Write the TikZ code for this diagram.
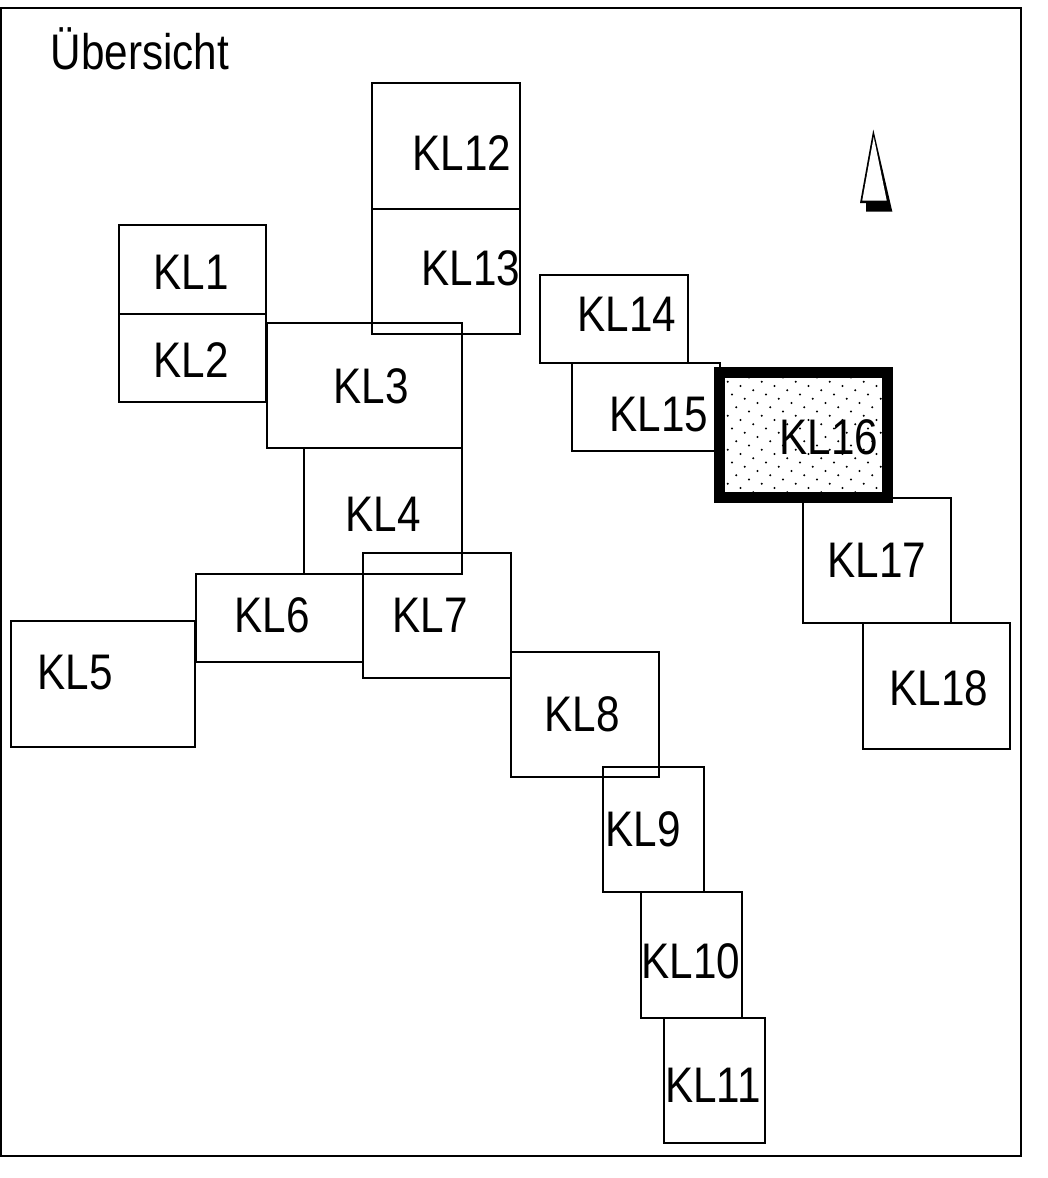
\documentclass[tikz,border=0pt]{standalone}
\usepackage{fontspec}
\setmainfont[FakeStretch=0.845]{Liberation Sans}
\begin{document}
\begin{tikzpicture}[x=0.5pt,y=-0.5pt,
  boxline/.style={draw=black,line width=0.8pt,inner sep=0pt,outer sep=0pt},
  lab/.style={font=\fontsize{25}{30}\selectfont,text=black,inner sep=0pt,anchor=center}]
\useasboundingbox (0,0) rectangle (1048,1178);
\newcommand{\klbox}[6]{%
  \node[boxline,minimum width={(#4-#2-1)*0.5pt},minimum height={(#5-#3)*0.5pt}] (#1) at ({(#2+#4-1)/2},{(#3+#5)/2}) {};
  \node[lab] (#1t) at (#6) {#1};}
\node[boxline,minimum width=510pt,minimum height=574pt] (frame) at (511,582) {};
\node[font=\fontsize{25}{30}\selectfont,inner sep=0pt] (title) at (140,49) {Übersicht};
\klbox{KL1}{119}{225}{267}{314}{191,272}
\klbox{KL2}{119}{314}{267}{402}{191,360}
\klbox{KL3}{267}{323}{463}{448}{371,386}
\klbox{KL4}{304}{448}{463}{574}{383,514}
\klbox{KL5}{11}{621}{196}{747}{75,673}
\klbox{KL6}{196}{574}{364}{662}{272,615}
\klbox{KL7}{363}{553}{512}{678}{430,615}
\klbox{KL8}{511}{652}{660}{777}{582,714}
\klbox{KL9}{603}{767}{705}{892}{643,829}
\klbox{KL10}{641}{892}{743}{1018}{691,961}
\klbox{KL11}{664}{1018}{766}{1143}{713,1085}
\klbox{KL12}{372}{83}{521}{209}{462,153}
\klbox{KL13}{372}{209}{521}{334}{471,268}
\klbox{KL14}{540}{275}{689}{363}{627,314}
\klbox{KL15}{572}{363}{721}{451}{659,415}
\klbox{KL17}{803}{498}{952}{623}{877,560}
\klbox{KL18}{863}{623}{1011}{749}{939,688}
% KL16
\node[draw=black,fill=white,line width=5.5pt,inner sep=0pt,minimum width=84pt,minimum height=62.5pt] (KL16) at (803,435) {};
\begin{scope}
\clip (725,378) rectangle (882,492);
\foreach \i in {-14,...,16}\foreach \j in {-8,...,12}{
  \fill[black] ({727.7+\i*12.75+\j*4.25},{381.7+\i*4.25+\j*12.75}) circle[radius=1.1];
}
\end{scope}
\node[lab] (KL16t) at (829,437) {KL16};
% north arrow
\fill[black] (873.3,129.5) -- (892.3,211.5) -- (866,211.5) -- (866,203) -- (860,203) -- cycle;
\fill[white] (873.7,137) -- (886.7,200.5) -- (862.3,200.5) -- cycle;
\end{tikzpicture}
\end{document}
